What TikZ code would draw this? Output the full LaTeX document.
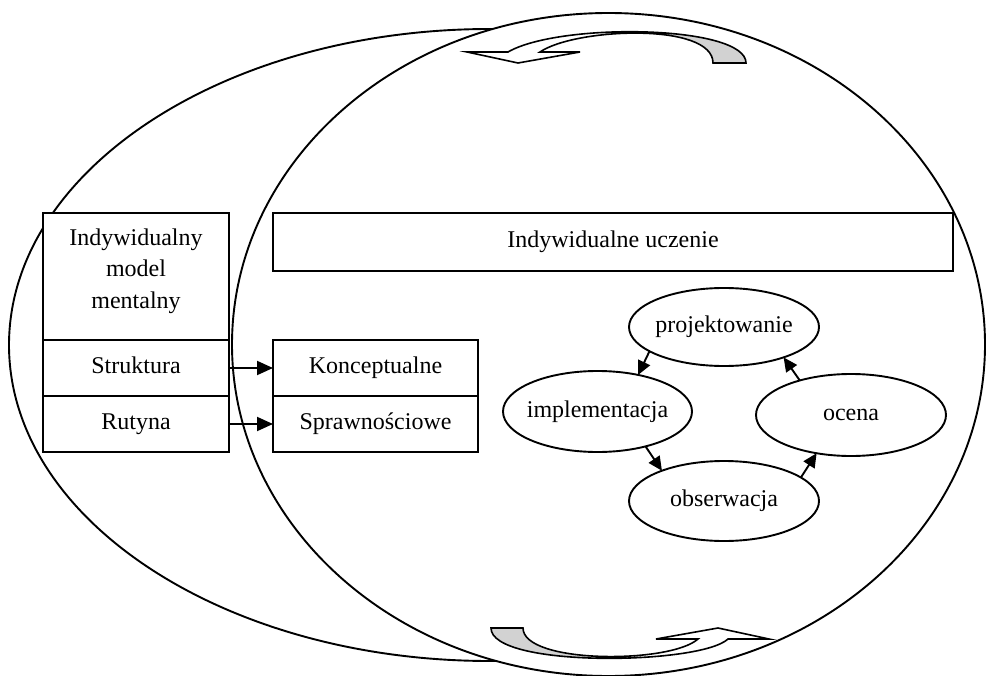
\documentclass[tikz,border=0pt]{standalone}
\usepackage{fontspec}
\setmainfont{Liberation Serif}
\usetikzlibrary{shapes.geometric,arrows.meta}
\begin{document}
\begin{tikzpicture}[x=1pt,y=-1pt,
  lw/.style={line width=1.9pt},
  box/.style={draw, lw, fill=white, rectangle, inner sep=0pt, outer sep=0pt,
    font=\fontsize{24}{31.5}\selectfont, text height=16pt, text depth=5pt},
  txt/.style={font=\fontsize{24}{31.5}\selectfont, inner sep=0pt, align=center},
  cyc/.style={draw, lw, ellipse, inner sep=0pt, outer sep=0pt, fill=white},
  arr/.style={lw, -{Triangle[length=16pt,width=14pt]}},
  sarr/.style={lw, -{Triangle[length=14pt,width=13pt]}},
  band/.style={line width=1.6pt, line join=miter}
]
\useasboundingbox (0,0) rectangle (987,676);

% big ellipses
\draw[lw] (490,345) ellipse [x radius=481pt, y radius=316pt];
\draw[lw, fill=white] (608.5,344.5) ellipse [x radius=376.5pt, y radius=331.5pt];

% left column
\node[box, minimum width=186pt, minimum height=127pt] (imm) at (136,276.5) {};
\node[txt] (immt) at (136,271) {Indywidualny\\model\\mentalny};
\node[box, minimum width=186pt, minimum height=56pt] (str) at (136,368) {Struktura};
\node[box, minimum width=186pt, minimum height=56pt] (rut) at (136,424) {Rutyna};

% middle column
\node[box, minimum width=205pt, minimum height=56pt] (konc) at (375.5,368) {Konceptualne};
\node[box, minimum width=205pt, minimum height=56pt] (spraw) at (375.5,424) {Sprawnościowe};

% top box
\node[box, minimum width=680pt, minimum height=58pt] (ucz) at (613,242) {Indywidualne uczenie};

\draw[arr] (str.east) -- (konc.west);
\draw[arr] (rut.east) -- (spraw.west);

% cycle
\node[cyc, minimum width=190pt, minimum height=78pt] (proj) at (724,327) {};
\node[cyc, minimum width=189pt, minimum height=81pt] (impl) at (597.5,411.5) {};
\node[cyc, minimum width=190pt, minimum height=80pt] (obs) at (724,501) {};
\node[cyc, minimum width=190pt, minimum height=82pt] (ocena) at (851,415) {};
\node[box, draw=none, fill=none] (projt) at (proj) {projektowanie};
\node[box, draw=none, fill=none] (implt) at (impl) {implementacja};
\node[box, draw=none, fill=none] (obst) at (obs) {obserwacja};
\node[box, draw=none, fill=none] (ocenat) at (ocena) {ocena};

\draw[sarr] (proj.198) -- (impl.42);
\draw[sarr] (impl.324) -- (obs.154);
\draw[sarr] (obs.17) -- (ocena.228);
\draw[sarr] (ocena.146) -- (proj.333);

% top curved arrow
\def\toparrow{(508,52) .. controls (560,22) and (746,25) .. (746,63) -- (713,63)
  .. controls (713,22) and (575,28) .. (540,52) -- (580,52) -- (518,63) -- (467,52) -- cycle}
\fill[white] \toparrow;
\begin{scope}
  \clip (606,0) rectangle (800,120);
  \fill[gray!35] \toparrow;
\end{scope}
\draw[band] \toparrow;

% bottom curved arrow
\def\botarrow{(491,628) -- (523,628) .. controls (523,664) and (670,664) .. (698,639)
  -- (656,639) -- (718,628) -- (769,639) -- (728,639)
  .. controls (700,665) and (491,668) .. (491,628) -- cycle}
\fill[white] \botarrow;
\begin{scope}
  \clip (470,600) rectangle (612,676);
  \fill[gray!35] \botarrow;
\end{scope}
\draw[band] \botarrow;
\end{tikzpicture}
\end{document}
